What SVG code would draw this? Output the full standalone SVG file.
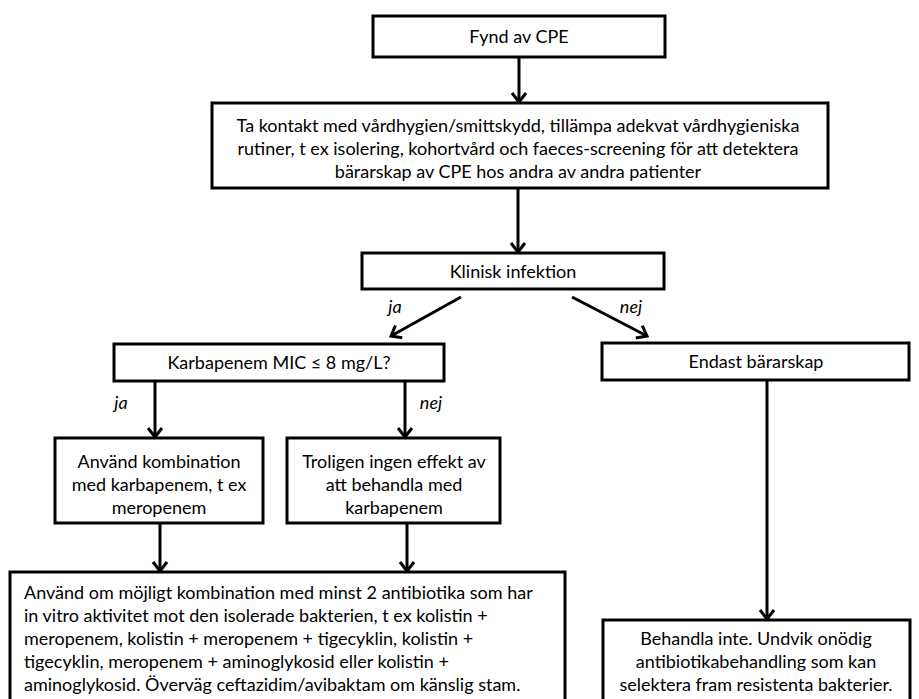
<svg xmlns="http://www.w3.org/2000/svg" width="919" height="699" viewBox="0 0 919 699">
<defs>
<style>
.box{fill:#fff;stroke:#000;stroke-width:3}
.t{font-family:Lato,"Open Sans","Liberation Sans",sans-serif;font-size:18px;fill:#000}
.c{text-anchor:middle}
.i{font-style:italic}
.ar{stroke:#000;stroke-width:3;fill:none;marker-end:url(#ah)}
</style>
<marker id="ah" markerUnits="userSpaceOnUse" markerWidth="20" markerHeight="20" viewBox="-12 -10 14 20" refX="0" refY="0" orient="auto">
<path d="M-9,-7 L0,0 L-9,7" fill="none" stroke="#000" stroke-width="3"/>
</marker>
</defs>
<rect width="919" height="699" fill="#fff"/>
<g id="connectors">
<line class="ar" x1="519" y1="57" x2="519" y2="102"/>
<line class="ar" x1="518" y1="188" x2="518" y2="252"/>
<line class="ar" x1="461" y1="297" x2="391" y2="336"/>
<line class="ar" x1="572" y1="297" x2="647" y2="336"/>
<line class="ar" x1="155" y1="381" x2="155" y2="437"/>
<line class="ar" x1="405" y1="381" x2="405" y2="437"/>
<line class="ar" x1="160" y1="523" x2="160" y2="571"/>
<line class="ar" x1="407" y1="523" x2="407" y2="571"/>
<line class="ar" x1="767" y1="380" x2="767" y2="619"/>
<text class="t i" x="395" y="313" text-anchor="middle">ja</text>
<text class="t i" x="631" y="313" text-anchor="middle">nej</text>
<text class="t i" x="121" y="409" text-anchor="middle">ja</text>
<text class="t i" x="431" y="409" text-anchor="middle">nej</text>
</g>
<g id="n1">
<rect class="box" x="373" y="16" width="292" height="41"/>
<text class="t c" x="519" y="43">Fynd av CPE</text>
</g>
<g id="n2">
<rect class="box" x="212" y="103" width="616" height="85"/>
<text class="t c" x="518" y="132">Ta kontakt med vårdhygien/smittskydd, tillämpa adekvat vårdhygieniska</text>
<text class="t c" x="518" y="155">rutiner, t ex isolering, kohortvård och faeces-screening för att detektera</text>
<text class="t c" x="518" y="178">bärarskap av CPE hos andra av andra patienter</text>
</g>
<g id="n3">
<rect class="box" x="362" y="253" width="302" height="36"/>
<text class="t c" x="513" y="278">Klinisk infektion</text>
</g>
<g id="n4">
<rect class="box" x="114" y="344" width="330" height="37"/>
<text class="t c" x="279" y="369">Karbapenem MIC ≤ 8 mg/L?</text>
</g>
<g id="n5">
<rect class="box" x="602" y="343" width="307" height="37"/>
<text class="t c" x="756" y="368">Endast bärarskap</text>
</g>
<g id="n6">
<rect class="box" x="55" y="438" width="208" height="85"/>
<text class="t c" x="159" y="468">Använd kombination</text>
<text class="t c" x="159" y="491">med karbapenem, t ex</text>
<text class="t c" x="159" y="514">meropenem</text>
</g>
<g id="n7">
<rect class="box" x="287" y="438" width="213" height="85"/>
<text class="t c" x="394" y="468">Troligen ingen effekt av</text>
<text class="t c" x="394" y="491">att behandla med</text>
<text class="t c" x="394" y="514">karbapenem</text>
</g>
<g id="n8">
<rect class="box" x="10" y="572" width="555" height="140"/>
<text class="t" x="24" y="599">Använd om möjligt kombination med minst 2 antibiotika som har</text>
<text class="t" x="24" y="622">in vitro aktivitet mot den isolerade bakterien, t ex kolistin +</text>
<text class="t" x="24" y="645">meropenem, kolistin + meropenem + tigecyklin, kolistin +</text>
<text class="t" x="24" y="668">tigecyklin, meropenem + aminoglykosid eller kolistin +</text>
<text class="t" x="24" y="691">aminoglykosid. Överväg ceftazidim/avibaktam om känslig stam.</text>
</g>
<g id="n9">
<rect class="box" x="603" y="620" width="307" height="92"/>
<text class="t c" x="756" y="645">Behandla inte. Undvik onödig</text>
<text class="t c" x="756" y="668">antibiotikabehandling som kan</text>
<text class="t c" x="756" y="691">selektera fram resistenta bakterier.</text>
</g>
</svg>
